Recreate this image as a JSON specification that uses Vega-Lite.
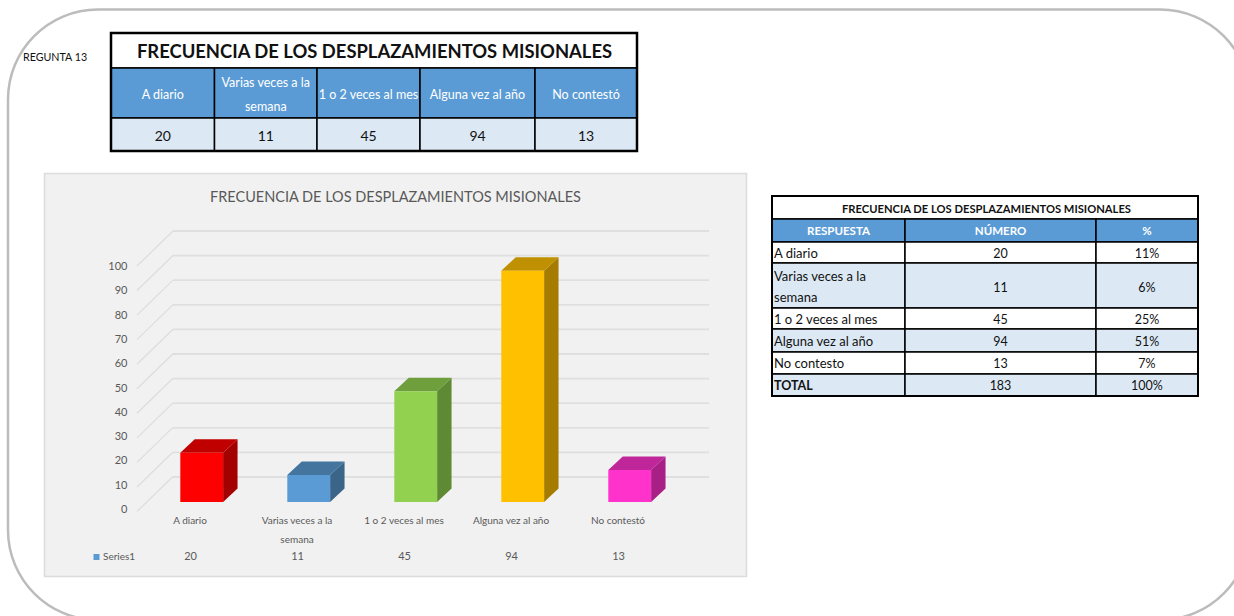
{
"$schema":"https://vega.github.io/schema/vega-lite/v6.json",
"width":1234,"height":616,"padding":0,"autosize":{"type":"none"},"background":"white",
"config":{"view":{"stroke":null},"font":"Lato","text":{"font":"Lato"}},
"datasets":{
"barras":[{"categoria":"A diario","etiqueta":"A diario","valor":20},{"categoria":"Varias veces a la semana","etiqueta":"Varias veces a la\nsemana","valor":11},{"categoria":"1 o 2 veces al mes","etiqueta":"1 o 2 veces al mes","valor":45},{"categoria":"Alguna vez al año","etiqueta":"Alguna vez al año","valor":94},{"categoria":"No contestó","etiqueta":"No contestó","valor":13}],
"marcas":[{"tick":0},{"tick":10},{"tick":20},{"tick":30},{"tick":40},{"tick":50},{"tick":60},{"tick":70},{"tick":80},{"tick":90},{"tick":100}],
"tabla1":[
{"fila":0,"col":0,"span":5,"rol":"titulo","texto":"FRECUENCIA DE LOS DESPLAZAMIENTOS MISIONALES"},
{"fila":1,"col":0,"span":1,"rol":"cabecera","texto":"A diario"},
{"fila":1,"col":1,"span":1,"rol":"cabecera","texto":"Varias veces a la\nsemana"},
{"fila":1,"col":2,"span":1,"rol":"cabecera","texto":"1 o 2 veces al mes"},
{"fila":1,"col":3,"span":1,"rol":"cabecera","texto":"Alguna vez al año"},
{"fila":1,"col":4,"span":1,"rol":"cabecera","texto":"No contestó"},
{"fila":2,"col":0,"span":1,"rol":"azul","texto":"20"},
{"fila":2,"col":1,"span":1,"rol":"azul","texto":"11"},
{"fila":2,"col":2,"span":1,"rol":"azul","texto":"45"},
{"fila":2,"col":3,"span":1,"rol":"azul","texto":"94"},
{"fila":2,"col":4,"span":1,"rol":"azul","texto":"13"}],
"tabla2":[
{"fila":0,"col":0,"span":3,"rol":"titulo","texto":"FRECUENCIA DE LOS DESPLAZAMIENTOS MISIONALES"},
{"fila":1,"col":0,"span":1,"rol":"cabecera","texto":"RESPUESTA"},
{"fila":1,"col":1,"span":1,"rol":"cabecera","texto":"NÚMERO"},
{"fila":1,"col":2,"span":1,"rol":"cabecera","texto":"%"},
{"fila":2,"col":0,"span":1,"rol":"blanco","texto":"A diario"},
{"fila":2,"col":1,"span":1,"rol":"blanco","texto":"20"},
{"fila":2,"col":2,"span":1,"rol":"blanco","texto":"11%"},
{"fila":3,"col":0,"span":1,"rol":"azul","texto":"Varias veces a la\nsemana"},
{"fila":3,"col":1,"span":1,"rol":"azul","texto":"11"},
{"fila":3,"col":2,"span":1,"rol":"azul","texto":"6%"},
{"fila":4,"col":0,"span":1,"rol":"blanco","texto":"1 o 2 veces al mes"},
{"fila":4,"col":1,"span":1,"rol":"blanco","texto":"45"},
{"fila":4,"col":2,"span":1,"rol":"blanco","texto":"25%"},
{"fila":5,"col":0,"span":1,"rol":"azul","texto":"Alguna vez al año"},
{"fila":5,"col":1,"span":1,"rol":"azul","texto":"94"},
{"fila":5,"col":2,"span":1,"rol":"azul","texto":"51%"},
{"fila":6,"col":0,"span":1,"rol":"blanco","texto":"No contesto"},
{"fila":6,"col":1,"span":1,"rol":"blanco","texto":"13"},
{"fila":6,"col":2,"span":1,"rol":"blanco","texto":"7%"},
{"fila":7,"col":0,"span":1,"rol":"azul","texto":"TOTAL"},
{"fila":7,"col":1,"span":1,"rol":"azul","texto":"183"},
{"fila":7,"col":2,"span":1,"rol":"azul","texto":"100%"}],
"unico":[{"serie":"Series1"}]
},
"data":{"name":"unico"},
"resolve":{"scale":{"x":"independent","y":"independent","color":"independent"}},
"layer":[
{"mark":{"type":"rect","fill":null,"stroke":"#bcbcbc","strokeWidth":2.5,"cornerRadius":90},
 "encoding":{"x":{"datum":0,"type":"quantitative","axis":null,"scale":{"domain":[0,1],"range":[8,1250],"nice":false}},"x2":{"datum":1},"y":{"datum":0,"type":"quantitative","axis":null,"scale":{"domain":[0,1],"range":[9.5,620],"nice":false}},"y2":{"datum":1}}},
{"mark":{"type":"rect","fill":"#f1f1f1","stroke":"#dcdcdc","strokeWidth":1.5},
 "encoding":{"x":{"datum":0,"type":"quantitative","axis":null,"scale":{"domain":[0,1],"range":[44.5,746.5],"nice":false}},"x2":{"datum":1},"y":{"datum":0,"type":"quantitative","axis":null,"scale":{"domain":[0,1],"range":[173.5,576.5],"nice":false}},"y2":{"datum":1}}},
{"mark":{"type":"text","align":"left","fontSize":10.7,"color":"#111111"},
 "encoding":{"text":{"value":"REGUNTA 13"},"x":{"datum":0,"type":"quantitative","axis":null,"scale":{"domain":[0,1],"range":[23,100],"nice":false}},"y":{"datum":0,"type":"quantitative","axis":null,"scale":{"domain":[0,1],"range":[58,100],"nice":false}}}},
{"mark":{"type":"text","fontSize":14.5,"color":"#595959"},
 "encoding":{"text":{"value":"FRECUENCIA DE LOS DESPLAZAMIENTOS MISIONALES"},"x":{"datum":0,"type":"quantitative","axis":null,"scale":{"domain":[0,1],"range":[395.5,500],"nice":false}},"y":{"datum":0,"type":"quantitative","axis":null,"scale":{"domain":[0,1],"range":[198,300],"nice":false}}}},
{"data":{"name":"marcas"},"mark":{"type":"rule","color":"#dfdfdf","strokeWidth":1.8},
 "encoding":{"x":{"datum":0,"type":"quantitative","axis":null,"scale":{"domain":[0,1],"range":[173,709],"nice":false}},"x2":{"datum":1},"y":{"field":"tick","type":"quantitative","axis":null,"scale":{"domain":[0,100],"range":[477,231],"nice":false}}}},
{"data":{"name":"marcas"},"mark":{"type":"rule","color":"#dddddd","strokeWidth":1.2,"y2Offset":-35},
 "encoding":{"x":{"datum":0,"type":"quantitative","axis":null,"scale":{"domain":[0,1],"range":[137,173],"nice":false}},"x2":{"datum":1},"y":{"field":"tick","type":"quantitative","axis":null,"scale":{"domain":[0,100],"range":[511.5,266],"nice":false}},"y2":{"field":"tick"}}},
{"data":{"name":"marcas"},"mark":{"type":"text","align":"right","fontSize":11,"color":"#595959"},
 "encoding":{"text":{"field":"tick","type":"quantitative"},"x":{"datum":0,"type":"quantitative","axis":null,"scale":{"domain":[0,1],"range":[127.5,200],"nice":false}},"y":{"field":"tick","type":"quantitative","axis":null,"scale":{"domain":[0,100],"range":[510,267],"nice":false}}}},
{"data":{"name":"barras"},
 "transform":[{"window":[{"op":"row_number","as":"i"}]},{"calculate":"[0,1]","as":"d"},{"flatten":["d"]},{"calculate":"datum.i+0.2+0.135*datum.d","as":"xl"},{"calculate":"datum.valor+5.5*datum.d","as":"yt"},{"calculate":"5.5*datum.d","as":"yb"}],
 "mark":{"type":"area","line":false,"opacity":1},
 "encoding":{"x":{"field":"xl","type":"quantitative","axis":null,"scale":{"domain":[0,6],"range":[94.7,736.7],"nice":false}},"y":{"field":"yt","type":"quantitative","axis":null,"stack":null,"scale":{"domain":[0,100],"range":[502,256],"nice":false}},"y2":{"field":"yb"},"color":{"field":"categoria","type":"nominal","legend":null,"scale":{"domain":["A diario","Varias veces a la semana","1 o 2 veces al mes","Alguna vez al año","No contestó"],"range":["#a30000","#3a6589","#5f8a34","#a67c00","#a81f86"]}}}},
{"data":{"name":"barras"},
 "transform":[{"window":[{"op":"row_number","as":"i"}]},{"calculate":"[0,1]","as":"d"},{"flatten":["d"]},{"calculate":"datum.i-0.2+0.135*datum.d","as":"xa"},{"calculate":"datum.i+0.2+0.135*datum.d","as":"xb"},{"calculate":"datum.valor+5.5*datum.d","as":"yt"}],
 "mark":{"type":"area","orient":"horizontal","line":false,"opacity":1},
 "encoding":{"y":{"field":"yt","type":"quantitative","axis":null,"scale":{"domain":[0,100],"range":[502,256],"nice":false}},"x":{"field":"xa","type":"quantitative","axis":null,"stack":null,"scale":{"domain":[0,6],"range":[94.7,736.7],"nice":false}},"x2":{"field":"xb"},"color":{"field":"categoria","type":"nominal","legend":null,"scale":{"domain":["A diario","Varias veces a la semana","1 o 2 veces al mes","Alguna vez al año","No contestó"],"range":["#c00000","#44759f","#6f9e3d","#bf9000","#bf2699"]}}}},
{"data":{"name":"barras"},
 "transform":[{"window":[{"op":"row_number","as":"i"}]},{"calculate":"datum.i-0.2","as":"xa"},{"calculate":"datum.i+0.2","as":"xb"}],
 "mark":{"type":"rect"},
 "encoding":{"x":{"field":"xa","type":"quantitative","axis":null,"scale":{"domain":[0,6],"range":[94.7,736.7],"nice":false}},"x2":{"field":"xb"},"y":{"field":"valor","type":"quantitative","axis":null,"scale":{"domain":[0,100],"range":[502,256],"nice":false}},"y2":{"datum":0},"color":{"field":"categoria","type":"nominal","legend":null,"scale":{"domain":["A diario","Varias veces a la semana","1 o 2 veces al mes","Alguna vez al año","No contestó"],"range":["#ff0000","#5b9bd5","#92d050","#ffc000","#ff33cc"]}}}},
{"data":{"name":"barras"},
 "transform":[{"window":[{"op":"row_number","as":"i"}]}],
 "mark":{"type":"text","fontSize":10,"color":"#595959","lineBreak":"\n","lineHeight":19,"baseline":"top"},
 "encoding":{"text":{"field":"etiqueta"},"x":{"field":"i","type":"quantitative","axis":null,"scale":{"domain":[0,6],"range":[83,725],"nice":false}},"y":{"datum":0,"type":"quantitative","axis":null,"scale":{"domain":[0,1],"range":[516,600],"nice":false}}}},
{"data":{"name":"barras"},
 "transform":[{"window":[{"op":"row_number","as":"i"}]}],
 "mark":{"type":"text","fontSize":11,"color":"#595959"},
 "encoding":{"text":{"field":"valor","type":"quantitative"},"x":{"field":"i","type":"quantitative","axis":null,"scale":{"domain":[0,6],"range":[83.5,725.5],"nice":false}},"y":{"datum":0,"type":"quantitative","axis":null,"scale":{"domain":[0,1],"range":[557,600],"nice":false}}}},
{"mark":{"type":"point","shape":"square","filled":true,"size":36,"color":"#5b9bd5","opacity":1},
 "encoding":{"x":{"datum":0,"type":"quantitative","axis":null,"scale":{"domain":[0,1],"range":[96.5,200],"nice":false}},"y":{"datum":0,"type":"quantitative","axis":null,"scale":{"domain":[0,1],"range":[557,600],"nice":false}}}},
{"mark":{"type":"text","align":"left","fontSize":10,"color":"#595959"},
 "encoding":{"text":{"field":"serie"},"x":{"datum":0,"type":"quantitative","axis":null,"scale":{"domain":[0,1],"range":[103,200],"nice":false}},"y":{"datum":0,"type":"quantitative","axis":null,"scale":{"domain":[0,1],"range":[557,600],"nice":false}}}},

{"data":{"name":"tabla1"},
 "transform":[{"calculate":"datum.col+datum.span","as":"colFin"},{"calculate":"datum.fila+1","as":"filaFin"}],
 "mark":{"type":"rect","stroke":"#000000","strokeWidth":1.5},
 "encoding":{"x":{"field":"col","type":"quantitative","axis":null,"scale":{"domain":[0,1,2,3,4,5],"range":[111,214.5,317,420,535,637],"nice":false}},"x2":{"field":"colFin"},"y":{"field":"fila","type":"quantitative","axis":null,"scale":{"domain":[0,1,2,3],"range":[33,68,118,151],"nice":false}},"y2":{"field":"filaFin"},"color":{"field":"rol","type":"nominal","legend":null,"scale":{"domain":["titulo","cabecera","azul"],"range":["#ffffff","#5b9bd5","#dce9f5"]}}}},
{"mark":{"type":"rect","fill":null,"stroke":"#000000","strokeWidth":2.5},
 "encoding":{"x":{"datum":0,"type":"quantitative","axis":null,"scale":{"domain":[0,1],"range":[111,637],"nice":false}},"x2":{"datum":1},"y":{"datum":0,"type":"quantitative","axis":null,"scale":{"domain":[0,1],"range":[33,151],"nice":false}},"y2":{"datum":1}}},
{"data":{"name":"tabla1"},
 "transform":[{"filter":"datum.rol==='titulo'"},{"calculate":"datum.col+datum.span/2","as":"xm"},{"calculate":"datum.fila+0.54","as":"ym"}],
 "mark":{"type":"text","dx":6,"fontSize":18.4,"fontWeight":"bold","color":"#111111"},
 "encoding":{"text":{"field":"texto"},"x":{"field":"xm","type":"quantitative","axis":null,"scale":{"domain":[0,1,2,3,4,5],"range":[111,214.5,317,420,535,637],"nice":false}},"y":{"field":"ym","type":"quantitative","axis":null,"scale":{"domain":[0,1,2,3],"range":[33,68,118,151],"nice":false}}}},
{"data":{"name":"tabla1"},
 "transform":[{"filter":"datum.rol==='cabecera'"},{"calculate":"datum.col+datum.span/2","as":"xm"},{"calculate":"indexof(datum.texto,'\\n')>=0 ? datum.fila+0.3 : datum.fila+0.54","as":"ym"}],
 "mark":{"type":"text","fontSize":12.5,"color":"#ffffff","lineBreak":"\n","lineHeight":24},
 "encoding":{"text":{"field":"texto"},"x":{"field":"xm","type":"quantitative","axis":null,"scale":{"domain":[0,1,2,3,4,5],"range":[111,214.5,317,420,535,637],"nice":false}},"y":{"field":"ym","type":"quantitative","axis":null,"scale":{"domain":[0,1,2,3],"range":[33,68,118,151],"nice":false}}}},
{"data":{"name":"tabla1"},
 "transform":[{"filter":"datum.rol==='azul'"},{"calculate":"datum.col+datum.span/2","as":"xm"},{"calculate":"datum.fila+0.57","as":"ym"}],
 "mark":{"type":"text","fontSize":14,"color":"#111111"},
 "encoding":{"text":{"field":"texto"},"x":{"field":"xm","type":"quantitative","axis":null,"scale":{"domain":[0,1,2,3,4,5],"range":[111,214.5,317,420,535,637],"nice":false}},"y":{"field":"ym","type":"quantitative","axis":null,"scale":{"domain":[0,1,2,3],"range":[33,68,118,151],"nice":false}}}},

{"data":{"name":"tabla2"},
 "transform":[{"calculate":"datum.col+datum.span","as":"colFin"},{"calculate":"datum.fila+1","as":"filaFin"}],
 "mark":{"type":"rect","stroke":"#000000","strokeWidth":1.5},
 "encoding":{"x":{"field":"col","type":"quantitative","axis":null,"scale":{"domain":[0,1,2,3],"range":[772,905,1096,1198],"nice":false}},"x2":{"field":"colFin"},"y":{"field":"fila","type":"quantitative","axis":null,"scale":{"domain":[0,1,2,3,4,5,6,7,8],"range":[196,219,242,263,308,329,352,374,396],"nice":false}},"y2":{"field":"filaFin"},"color":{"field":"rol","type":"nominal","legend":null,"scale":{"domain":["titulo","cabecera","blanco","azul"],"range":["#ffffff","#5b9bd5","#ffffff","#dce9f5"]}}}},
{"data":{"name":"tabla2"},
 "transform":[{"filter":"datum.rol==='titulo'"},{"calculate":"datum.col+datum.span/2","as":"xm"},{"calculate":"datum.fila+0.6","as":"ym"}],
 "mark":{"type":"text","dx":-14,"fontSize":11.2,"fontWeight":"bold","color":"#111111"},
 "encoding":{"text":{"field":"texto"},"x":{"field":"xm","type":"quantitative","axis":null,"scale":{"domain":[0,1,2,3],"range":[772,905,1096,1198],"nice":false}},"y":{"field":"ym","type":"quantitative","axis":null,"scale":{"domain":[0,1,2,3,4,5,6,7,8],"range":[196,219,242,263,308,329,352,374,396],"nice":false}}}},
{"data":{"name":"tabla2"},
 "transform":[{"filter":"datum.rol==='cabecera'"},{"calculate":"datum.col+datum.span/2","as":"xm"},{"calculate":"datum.fila+0.55","as":"ym"}],
 "mark":{"type":"text","fontSize":11.5,"fontWeight":"bold","color":"#ffffff"},
 "encoding":{"text":{"field":"texto"},"x":{"field":"xm","type":"quantitative","axis":null,"scale":{"domain":[0,1,2,3],"range":[772,905,1096,1198],"nice":false}},"y":{"field":"ym","type":"quantitative","axis":null,"scale":{"domain":[0,1,2,3,4,5,6,7,8],"range":[196,219,242,263,308,329,352,374,396],"nice":false}}}},
{"data":{"name":"tabla2"},
 "transform":[{"filter":"datum.fila>1 && datum.fila<7 && datum.col===0"},{"calculate":"indexof(datum.texto,'\\n')>=0 ? datum.fila+0.31 : datum.fila+0.55","as":"ym"}],
 "mark":{"type":"text","align":"left","dx":2,"fontSize":13,"color":"#111111","lineBreak":"\n","lineHeight":21},
 "encoding":{"text":{"field":"texto"},"x":{"field":"col","type":"quantitative","axis":null,"scale":{"domain":[0,1,2,3],"range":[772,905,1096,1198],"nice":false}},"y":{"field":"ym","type":"quantitative","axis":null,"scale":{"domain":[0,1,2,3,4,5,6,7,8],"range":[196,219,242,263,308,329,352,374,396],"nice":false}}}},
{"data":{"name":"tabla2"},
 "transform":[{"filter":"datum.fila===7 && datum.col===0"},{"calculate":"datum.fila+0.55","as":"ym"}],
 "mark":{"type":"text","align":"left","dx":2,"fontSize":12.5,"fontWeight":"bold","color":"#111111"},
 "encoding":{"text":{"field":"texto"},"x":{"field":"col","type":"quantitative","axis":null,"scale":{"domain":[0,1,2,3],"range":[772,905,1096,1198],"nice":false}},"y":{"field":"ym","type":"quantitative","axis":null,"scale":{"domain":[0,1,2,3,4,5,6,7,8],"range":[196,219,242,263,308,329,352,374,396],"nice":false}}}},
{"data":{"name":"tabla2"},
 "transform":[{"filter":"datum.fila>1 && datum.col>0"},{"calculate":"datum.col+0.5","as":"xm"},{"calculate":"datum.fila+0.55","as":"ym"}],
 "mark":{"type":"text","fontSize":12.5,"color":"#111111"},
 "encoding":{"text":{"field":"texto"},"x":{"field":"xm","type":"quantitative","axis":null,"scale":{"domain":[0,1,2,3],"range":[772,905,1096,1198],"nice":false}},"y":{"field":"ym","type":"quantitative","axis":null,"scale":{"domain":[0,1,2,3,4,5,6,7,8],"range":[196,219,242,263,308,329,352,374,396],"nice":false}}}},
{"mark":{"type":"rect","fill":null,"stroke":"#000000","strokeWidth":2},
 "encoding":{"x":{"datum":0,"type":"quantitative","axis":null,"scale":{"domain":[0,1],"range":[772,1198],"nice":false}},"x2":{"datum":1},"y":{"datum":0,"type":"quantitative","axis":null,"scale":{"domain":[0,1],"range":[196,396],"nice":false}},"y2":{"datum":1}}}
]
}
